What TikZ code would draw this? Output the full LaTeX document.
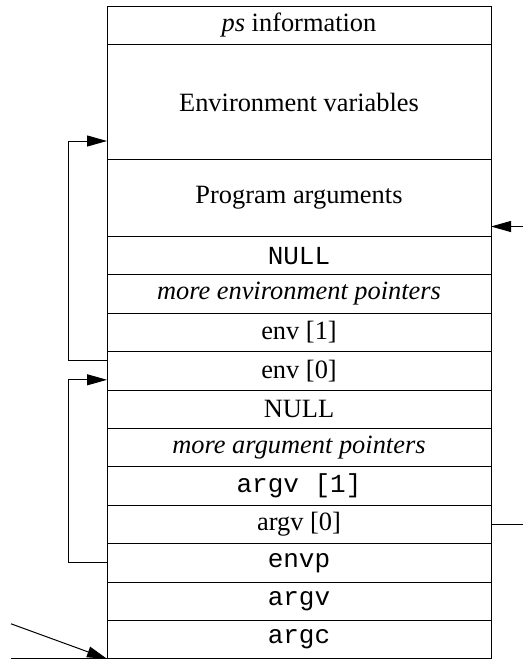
\documentclass[tikz,border=0pt]{standalone}
\usepackage{fontspec}
\setmainfont{Liberation Serif}
\setmonofont{Liberation Mono}
\usetikzlibrary{positioning, arrows.meta}

\begin{document}
\begin{tikzpicture}[x=0.5pt, y=-0.5pt, line width=0.5pt,
    row/.style={draw, minimum width=192pt, minimum height=19.2pt, inner sep=0pt, outer sep=0pt, font=\fontsize{13.2}{16}\selectfont},
    ttrow/.style={row, font=\fontsize{13}{16}\selectfont\ttfamily},
    ptr/.style={-{Triangle[length=10pt,width=5.5pt]}}]

    \useasboundingbox (0,0) rectangle (523,671);

    % Define the rows of the stack (top = high addresses)
    \node[row, anchor=north west] (ps) at (107,6) {\textit{ps} information};
    \node[row, minimum height=57.6pt, below=0pt of ps] (envvars) {Environment variables};
    \node[row, minimum height=38.4pt, below=0pt of envvars] (progargs) {Program arguments};
    \node[ttrow, below=0pt of progargs] (envnull) {NULL};
    \node[row, below=0pt of envnull] (moreenv) {\textit{more environment pointers}};
    \node[row, below=0pt of moreenv] (env1) {env [1]};
    \node[row, below=0pt of env1] (env0) {env [0]};
    \node[row, below=0pt of env0] (argnull) {NULL};
    \node[row, below=0pt of argnull] (morearg) {\textit{more argument pointers}};
    \node[ttrow, below=0pt of morearg] (argv1) {argv [1]};
    \node[row, below=0pt of argv1] (argv0) {argv [0]};
    \node[ttrow, below=0pt of argv0] (envp) {envp};
    \node[ttrow, below=0pt of envp] (argv) {argv};
    \node[ttrow, below=0pt of argv] (argc) {argc};

    % Free ends of the outside pointers
    \coordinate (progin) at ([xshift=16pt, yshift=-14.25pt]progargs.east);
    \coordinate[right=16pt of argv0] (argv0out);
    \coordinate[left=48pt of argc.south west] (base);
    \coordinate[above=17.5pt of base] (sp);

    % Define the pointers
    \draw[ptr] ([yshift=5pt]env0.west) -- ++(-19.5pt,0) |- ([yshift=-19.5pt]envvars.west); % env[0] -> strings
    \draw[ptr] (envp.west) -- ++(-19.5pt,0) |- ([yshift=-4.5pt]env0.west); % envp -> env[0]
    \draw (argv0.east) -- (argv0out);
    \draw[ptr] (progin) -- (progin -| progargs.east);
    \draw (base) -- (argc.south west);
    \draw[ptr] (sp) -- (argc.south west); % stack pointer
\end{tikzpicture}
\end{document}
